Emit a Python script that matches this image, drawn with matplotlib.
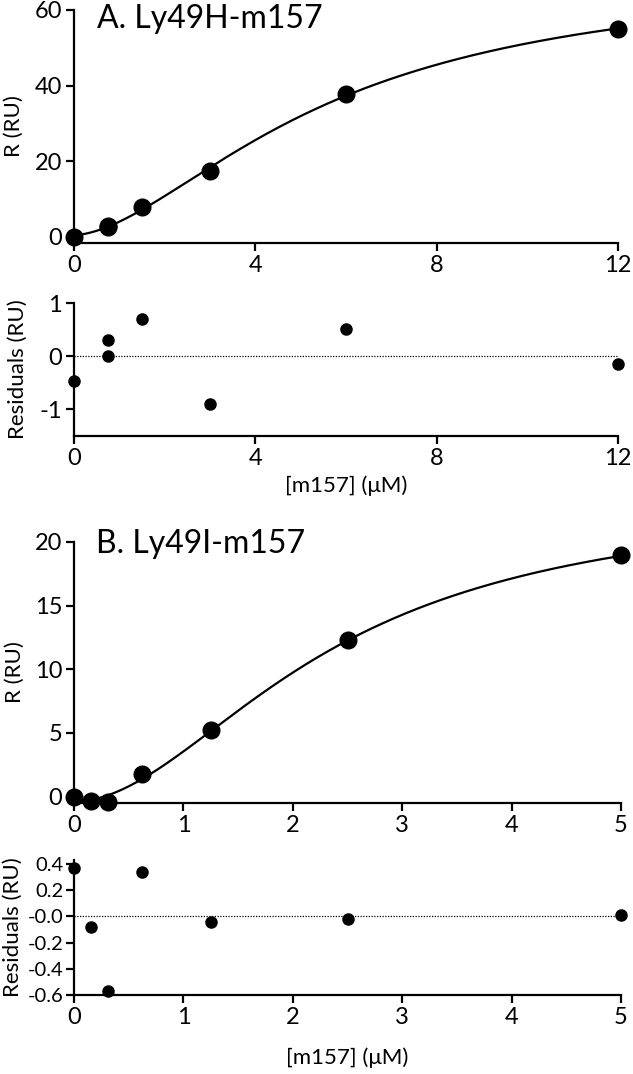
import numpy as np
import matplotlib
matplotlib.use('Agg')
import matplotlib.pyplot as plt

# panel A: Ly49H-m157
conc_a = [0, 0.75, 0.75, 1.5, 3, 6, 12]
resp_a = [0.0, 3.0, 2.7, 7.9, 17.5, 37.8, 55.0]
resid_a = [-0.47, 0.30, 0.0, 0.70, -0.90, 0.52, -0.15]
fit_a = dict(c=0.5, rmax=69.6, k=5.6, n=1.7)

# panel B: Ly49I-m157
conc_b = [0, 0.156, 0.3125, 0.625, 1.25, 2.5, 5]
resp_b = [0.0, -0.35, -0.45, 1.75, 5.2, 12.3, 18.95]
resid_b = [0.37, -0.08, -0.57, 0.34, -0.04, -0.02, 0.01]
fit_b = dict(c=-0.39, rmax=23.9, k=2.35, n=1.9)

xticks_a = [0, 4, 8, 12]
yticks_a = [0, 20, 40, 60]
rticks_a = [-1, 0, 1]
xticks_b = [0, 1, 2, 3, 4, 5]
yticks_b = [0, 5, 10, 15, 20]
rticks_b = [-0.6, -0.4, -0.2, 0.0, 0.2, 0.4]
rlabels_b = ['-0.6', '-0.4', '-0.2', '-0.0', '0.2', '0.4']

plt.rcParams['font.family'] = ['Lato', 'DejaVu Sans']
plt.rcParams['axes.unicode_minus'] = False


def hill(x, c, rmax, k, n):
    return c + rmax * x**n / (k**n + x**n)


def style(ax):
    for s in ['top', 'right']:
        ax.spines[s].set_visible(False)
    for s in ['left', 'bottom']:
        ax.spines[s].set_linewidth(1.6)
    ax.tick_params(direction='out', length=6, width=1.6, labelsize=17, pad=2.5)


fig = plt.figure(figsize=(6.33, 10.74), dpi=100)

W = 1074.0
ax1 = fig.add_axes([74/633, 1-243/W, 544/633, 233/W])
ax2 = fig.add_axes([74/633, 1-436/W, 544/633, 133/W])
ax3 = fig.add_axes([74/633, 1-803/W, 547/633, 261/W])
ax4 = fig.add_axes([74/633, 1-995/W, 547/633, 135/W])

# A top
xs = np.linspace(0, 12, 400)
ax1.plot(xs, hill(xs, **fit_a), color='black', lw=1.6)
ax1.plot(conc_a, resp_a, 'o', color='black', ms=12, clip_on=False)
ax1.set_xlim(0, 12)
ax1.set_ylim(-1.6, 60)
ax1.set_xticks(xticks_a)
ax1.set_yticks(yticks_a)
ax1.set_ylabel('R (RU)', fontsize=16)
ax1.yaxis.set_label_coords(-0.092, 0.5)
ax1.text(0.043, 1.025, 'A. Ly49H-m157', transform=ax1.transAxes, fontsize=23, va='top')
style(ax1)

# A residuals
ax2.axhline(0, color='black', lw=0.9, ls=(0, (1, 1.2)))
ax2.plot(conc_a, resid_a, 'o', color='black', ms=8, clip_on=False)
ax2.set_xlim(0, 12)
ax2.set_ylim(-1.5, 1)
ax2.set_xticks(xticks_a)
ax2.set_yticks(rticks_a)
ax2.set_ylabel('Residuals (RU)', fontsize=16)
ax2.yaxis.set_label_coords(-0.085, 0.5)
ax2.set_xlabel('[m157] (μM)', fontsize=16, labelpad=5)
style(ax2)

# B top
xs = np.linspace(0, 5, 400)
ax3.plot(xs, hill(xs, **fit_b), color='black', lw=1.6)
ax3.plot(conc_b, resp_b, 'o', color='black', ms=12, clip_on=False)
ax3.set_xlim(0, 5)
ax3.set_ylim(-0.5, 20)
ax3.set_xticks(xticks_b)
ax3.set_yticks(yticks_b)
ax3.set_ylabel('R (RU)', fontsize=16)
ax3.yaxis.set_label_coords(-0.09, 0.5)
ax3.text(0.04, 1.05, 'B. Ly49I-m157', transform=ax3.transAxes, fontsize=23, va='top')
style(ax3)

# B residuals
ax4.axhline(0, color='black', lw=0.9, ls=(0, (1, 1.2)))
ax4.plot(conc_b, resid_b, 'o', color='black', ms=8, clip_on=False)
ax4.set_xlim(0, 5)
ax4.set_ylim(-0.6, 0.43)
ax4.set_xticks(xticks_b)
ax4.set_yticks(rticks_b)
ax4.set_yticklabels(rlabels_b)
ax4.set_ylabel('Residuals (RU)', fontsize=16)
ax4.yaxis.set_label_coords(-0.093, 0.5)
ax4.set_xlabel('[m157] (μM)', fontsize=16, labelpad=14)
style(ax4)
ax4.tick_params(axis='y', labelsize=14.5, pad=1.5)

fig.savefig('out.png', dpi=100)
